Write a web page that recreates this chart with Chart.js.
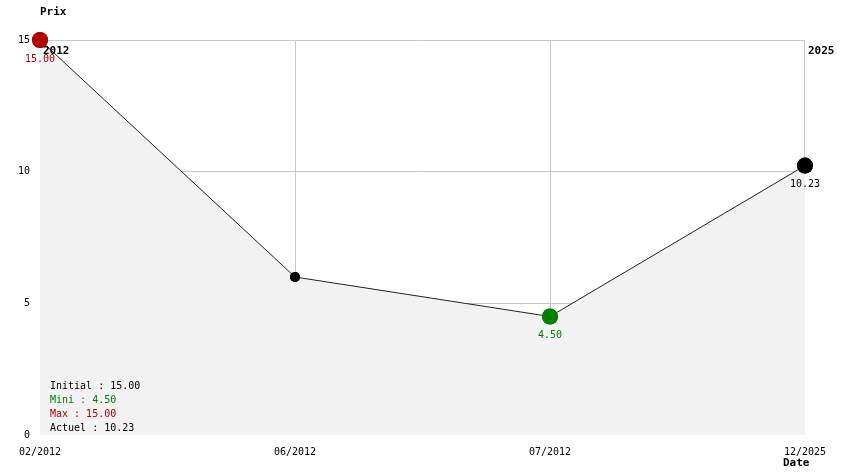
<!DOCTYPE html>
<html>
<head>
<meta charset="utf-8">
<script src="https://cdn.jsdelivr.net/npm/chart.js@4.4.0/dist/chart.umd.min.js"></script>
<style>
html,body{margin:0;padding:0;background:#fff;}
#wrap{width:844px;height:474px;}
</style>
</head>
<body>
<div id="wrap"><canvas id="c" width="844" height="474"></canvas></div>
<script>
const categories = ['02/2012', '06/2012', '07/2012', '12/2025'];
const prices = [15.00, 6.00, 4.50, 10.23];
const yTicks = [0, 5, 10, 15];
const pointLabels = ['15.00', '', '4.50', '10.23'];
const yearMarks = [{index: 0, text: '2012'}, {index: 3, text: '2025'}];
const statLines = [
  {text: 'Initial : 15.00', color: '#000000'},
  {text: 'Mini : 4.50', color: '#008000'},
  {text: 'Max : 15.00', color: '#b00000'},
  {text: 'Actuel : 10.23', color: '#000000'}
];

const RED = '#b00000', GREEN = '#008000', BLACK = '#000000';
const GRID = '#c8c8c8';
const pointColors = [RED, BLACK, GREEN, BLACK];
const labelColors = [RED, BLACK, GREEN, BLACK];
const pointRadii = [8, 5, 8, 8];
const MONO = '"DejaVu Sans Mono", "Liberation Mono", monospace';

const overlay = {
  id: 'overlay',
  afterDatasetsDraw(chart) {
    const ctx = chart.ctx;
    const meta = chart.getDatasetMeta(0);
    const xs = chart.scales.x, area = chart.chartArea;
    ctx.save();
    // last vertical grid line, down to the last point only
    const last = meta.data[meta.data.length - 1];
    ctx.strokeStyle = GRID;
    ctx.lineWidth = 1;
    ctx.beginPath();
    ctx.moveTo(Math.round(last.x) - 0.5, area.top);
    ctx.lineTo(Math.round(last.x) - 0.5, last.y);
    ctx.stroke();
    // year marks
    ctx.font = 'bold 11px ' + MONO;
    ctx.textAlign = 'left';
    ctx.textBaseline = 'middle';
    ctx.fillStyle = BLACK;
    yearMarks.forEach(m => {
      ctx.fillText(m.text, xs.getPixelForValue(m.index) + 3, area.top + 11);
    });
    // redraw points on top of texts/lines
    meta.data.forEach(pt => pt.draw(ctx, area));
    // point value labels
    ctx.font = '10px ' + MONO;
    ctx.textAlign = 'center';
    meta.data.forEach((pt, i) => {
      if (!pointLabels[i]) return;
      ctx.fillStyle = labelColors[i];
      ctx.fillText(pointLabels[i], pt.x, pt.y + 19);
    });
    // stats
    ctx.textAlign = 'left';
    statLines.forEach((s, i) => {
      ctx.fillStyle = s.color;
      ctx.fillText(s.text, area.left + 10, area.bottom - 49 + i * 14);
    });
    // axis titles
    ctx.font = 'bold 11px ' + MONO;
    ctx.fillStyle = BLACK;
    ctx.fillText('Prix', area.left, 12);
    ctx.fillText('Date', area.right - 22, 463);
    ctx.restore();
  }
};

new Chart(document.getElementById('c'), {
  type: 'line',
  data: {
    labels: categories,
    datasets: [{
      data: prices,
      clip: false,
      borderColor: '#222222',
      borderWidth: 1,
      tension: 0,
      fill: 'origin',
      backgroundColor: '#f2f2f2',
      pointRadius: pointRadii,
      pointHoverRadius: pointRadii,
      pointBackgroundColor: pointColors,
      pointBorderColor: pointColors,
      pointBorderWidth: 0
    }]
  },
  options: {
    responsive: false,
    animation: false,
    events: [],
    layout: {padding: {top: 40, right: 39, left: 0, bottom: 0}},
    plugins: {legend: {display: false}, tooltip: {enabled: false}, title: {display: false}},
    scales: {
      x: {
        type: 'category',
        offset: false,
        grid: {
          color: ctx => (ctx.index === categories.length - 1 ? 'rgba(0,0,0,0)' : GRID),
          drawTicks: false, lineWidth: 1
        },
        border: {display: false},
        ticks: {
          padding: 11, maxRotation: 0, autoSkip: false,
          color: '#000', font: {family: MONO, size: 10}
        },
        afterFit(s) { s.height = 39; }
      },
      y: {
        min: 0, max: 15,
        afterBuildTicks(s) { s.ticks = yTicks.map(v => ({value: v})); },
        grid: {
          color: ctx => (ctx.tick && ctx.tick.value === 0 ? 'rgba(0,0,0,0)' : GRID),
          drawTicks: false, lineWidth: 1
        },
        border: {display: false},
        ticks: {padding: 10, color: '#000', font: {family: MONO, size: 10}},
        afterFit(s) { s.width = 40; }
      }
    }
  },
  plugins: [overlay]
});
</script>
</body>
</html>
